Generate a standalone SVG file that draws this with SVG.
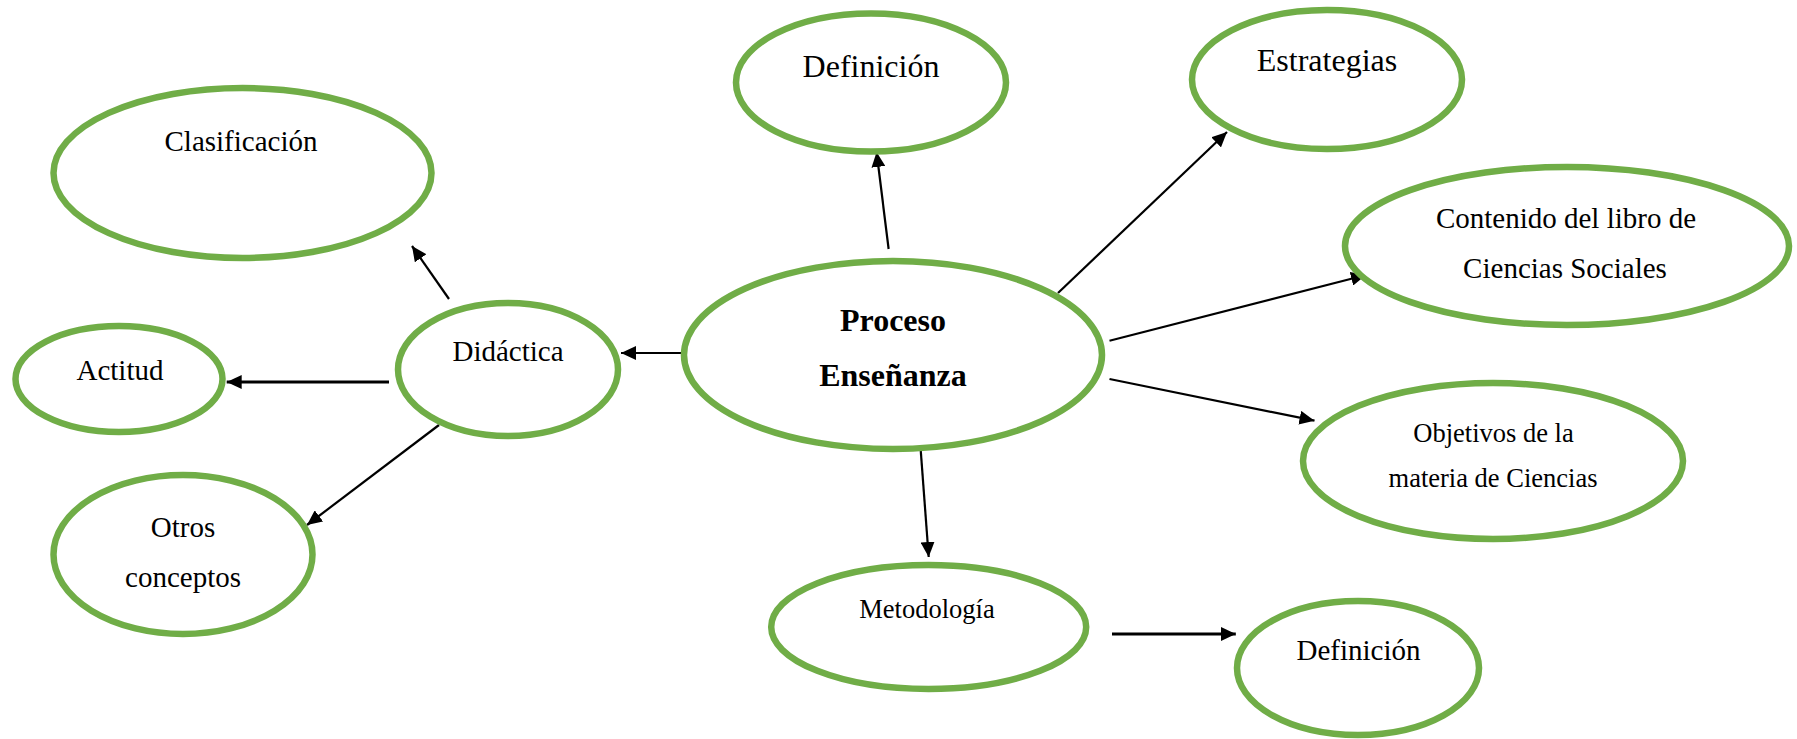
<svg xmlns="http://www.w3.org/2000/svg" width="1797" height="739" viewBox="0 0 1797 739">
<style>
.n{fill:#fff;stroke:#70AD47;stroke-width:6.5}
.t{font-family:"Liberation Serif","Times New Roman",serif;fill:#000;text-anchor:middle}
.c{stroke:#000;stroke-width:2.2;fill:none;marker-end:url(#ah)}
.b{font-weight:bold}
</style>
<defs>
<marker id="ah" markerWidth="16" markerHeight="14" refX="15" refY="7" orient="auto" markerUnits="userSpaceOnUse">
<path d="M0,0 L15,7 L0,14 z" fill="#000"/>
</marker>
</defs>
<rect width="1797" height="739" fill="#fff"/>
<g id="connectors">
<line class="c" x1="888.6" y1="249" x2="876.6" y2="152"/>
<line class="c" x1="1058" y1="293" x2="1227" y2="132"/>
<line class="c" x1="1109.5" y1="340.7" x2="1366" y2="275"/>
<line class="c" x1="1109.5" y1="379" x2="1314.5" y2="420.7"/>
<line class="c" x1="920" y1="440.7" x2="928.7" y2="557"/>
<line class="c" x1="1112" y1="634" x2="1235.8" y2="634" style="stroke-width:3"/>
<line class="c" x1="682" y1="353" x2="621" y2="353"/>
<line class="c" x1="449" y1="299" x2="412" y2="246"/>
<line class="c" x1="389" y1="382" x2="226.7" y2="382" style="stroke-width:3"/>
<line class="c" x1="439" y1="425" x2="307" y2="525"/>
</g>
<g id="proceso">
<ellipse class="n" cx="893" cy="355" rx="209" ry="94"/>
<text class="t b" x="893" y="331" font-size="32">Proceso</text>
<text class="t b" x="893" y="386" font-size="32">Enseñanza</text>
</g>
<g id="definicion1">
<ellipse class="n" cx="871" cy="82.5" rx="135" ry="69"/>
<text class="t" x="871" y="77" font-size="32">Definición</text>
</g>
<g id="estrategias">
<ellipse class="n" cx="1327" cy="79.5" rx="135" ry="69.5"/>
<text class="t" x="1327" y="71" font-size="32">Estrategias</text>
</g>
<g id="clasificacion">
<ellipse class="n" cx="242.5" cy="173" rx="189" ry="85"/>
<text class="t" x="241" y="151" font-size="29">Clasificación</text>
</g>
<g id="contenido">
<ellipse class="n" cx="1567" cy="246" rx="222" ry="79"/>
<text class="t" x="1566" y="228" font-size="29">Contenido del libro de</text>
<text class="t" x="1565" y="278" font-size="29">Ciencias Sociales</text>
</g>
<g id="didactica">
<ellipse class="n" cx="508" cy="369.5" rx="110" ry="66.5"/>
<text class="t" x="508" y="361" font-size="29">Didáctica</text>
</g>
<g id="actitud">
<ellipse class="n" cx="119" cy="379" rx="103.5" ry="53"/>
<text class="t" x="120" y="380" font-size="29">Actitud</text>
</g>
<g id="otros">
<ellipse class="n" cx="183" cy="554.5" rx="129.5" ry="79.5"/>
<text class="t" x="183" y="537" font-size="29">Otros</text>
<text class="t" x="183" y="587" font-size="29">conceptos</text>
</g>
<g id="objetivos">
<ellipse class="n" cx="1493" cy="461" rx="190" ry="78"/>
<text class="t" x="1493.5" y="442" font-size="26.5">Objetivos de la</text>
<text class="t" x="1493" y="487" font-size="26.5">materia de Ciencias</text>
</g>
<g id="metodologia">
<ellipse class="n" cx="928.7" cy="627" rx="157.5" ry="62"/>
<text class="t" x="927" y="618" font-size="26.5">Metodología</text>
</g>
<g id="definicion2">
<ellipse class="n" cx="1358" cy="668" rx="121" ry="67"/>
<text class="t" x="1358.5" y="660" font-size="29">Definición</text>
</g>
</svg>
